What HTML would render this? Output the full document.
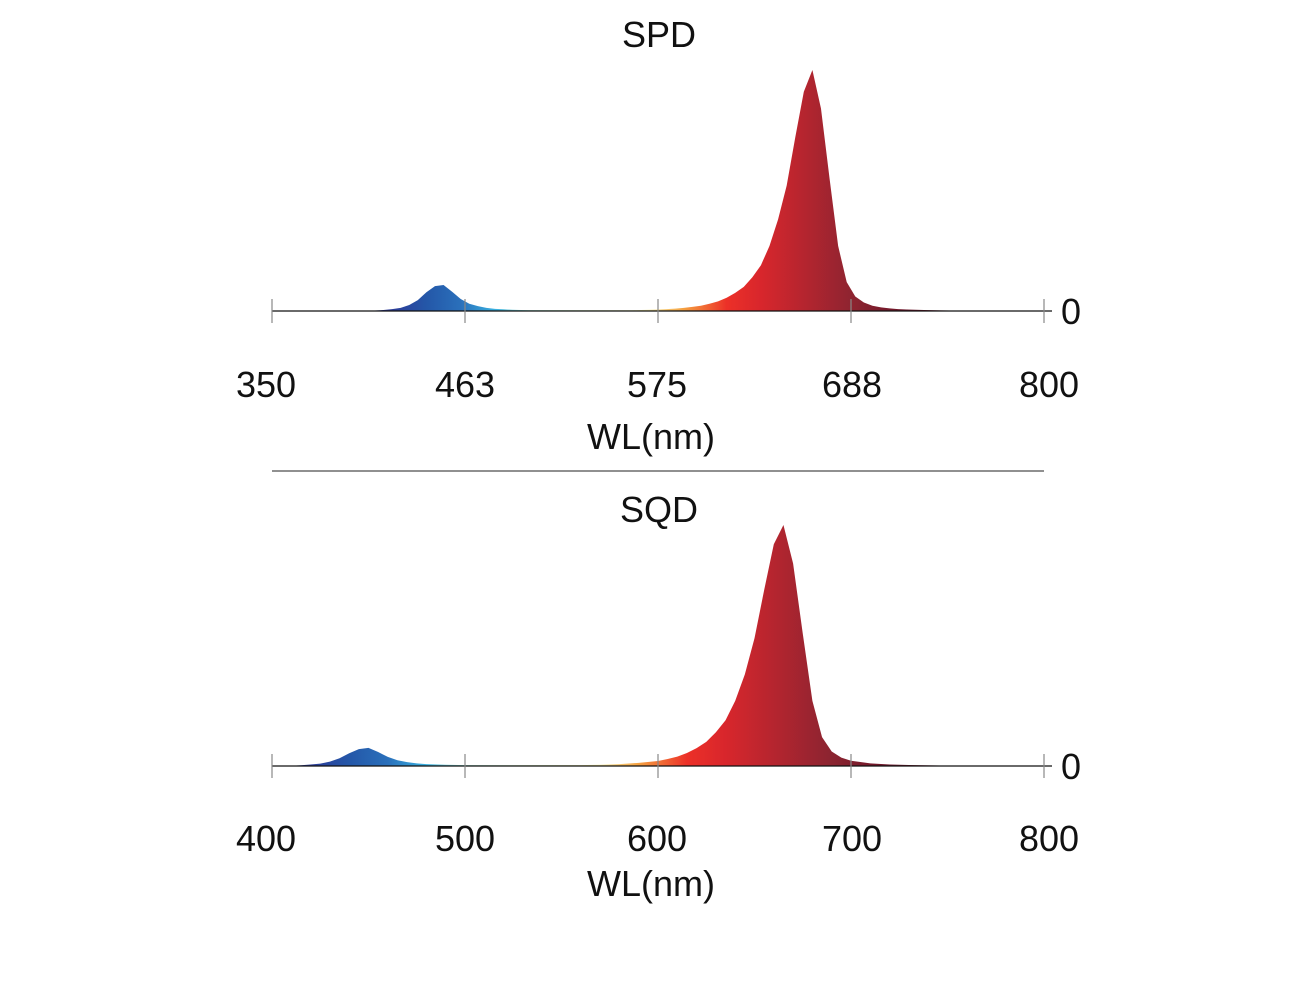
<!DOCTYPE html>
<html><head><meta charset="utf-8"><style>
body{margin:0;background:#fff;}
svg{display:block;font-family:"Liberation Sans","Noto Sans CJK SC",sans-serif;}
</style></head><body>
<svg id="c" width="1300" height="991" viewBox="0 0 1300 991">
<defs>
<linearGradient id="spec" gradientUnits="userSpaceOnUse" x1="0" y1="0" x2="1" y2="0"></linearGradient>
</defs>
</svg>
<script>
// SPD data (wavelength nm, relative power)
const spdWl = [350,400,405,410,415,420,425,430,435,440,445,450,455,460,465,470,475,480,485,490,495,500,530,560,565,570,575,580,585,590,595,600,605,610,615,620,625,630,635,640,645,650,655,660,665,670,675,680,685,690,695,700,705,710,715,720,725,730,740,750,800];
const spdVal = [0,0,0.1,0.2,0.4,0.8,1.3,2.5,4.5,7.8,10.3,10.8,8,5,3,2,1.3,0.9,0.7,0.5,0.4,0.35,0.3,0.3,0.4,0.5,0.6,0.8,1,1.3,1.7,2.2,3,4,5.5,7.5,10,14,19,27,38,52,72,91,100,84,55,27,12,6,3.5,2.2,1.5,1.1,0.8,0.6,0.5,0.4,0.25,0.15,0];
const spdTicks = ["350","463","575","688","800"];
// SQD data
const sqdWl = [400,410,415,420,425,430,435,440,445,450,455,460,465,470,475,480,490,500,530,560,570,580,590,600,605,610,615,620,625,630,635,640,645,650,655,660,665,670,675,680,685,690,695,700,710,720,730,750,800];
const sqdVal = [0,0.1,0.3,0.6,1,1.8,3.2,5.3,7,7.5,5.8,3.8,2.4,1.6,1.1,0.8,0.5,0.35,0.3,0.35,0.5,0.8,1.3,2.1,2.9,3.9,5.4,7.4,10,14,19,27,38,53,73,92,100,84,55,27,12,6,3.5,2.2,1.1,0.6,0.4,0.15,0];
const sqdTicks = ["400","500","600","700","800"];

const svg=document.getElementById('c');
const NS='http://www.w3.org/2000/svg';
const X0=272,X1=1044,HPX=241;
function mk(tag,attrs,parent){const e=document.createElementNS(NS,tag);for(const k in attrs)e.setAttribute(k,attrs[k]);(parent||svg).appendChild(e);return e;}
const stopsWl=[350,420,440,460,480,500,530,570,590,615,635,660,690,720,800];
const stopsCol=["#2a1f6e","#2c3c98","#2457a8","#2a70bb","#38b0e0","#8fd6c8","#b8e0a0","#f6ea9e","#f5a040","#ec3028","#d8262c","#b5252f","#8b2430","#6a1428","#5a0f24"];

function chart(name,top,wl,val,wmin,wmax,ticks,baseY,title,titleY,labY,xtY){
  const g=mk('g',{});
  
  
  const xs=w=>X0+(w-wmin)/(wmax-wmin)*(X1-X0);
  const ys=v=>baseY-v/100*HPX;
  // gradient
  const gid='g'+name;
  const lg=mk('linearGradient',{id:gid,gradientUnits:'userSpaceOnUse',x1:xs(350),y1:0,x2:xs(800),y2:0},svg.querySelector('defs'));
  stopsWl.forEach((w,i)=>mk('stop',{offset:((w-350)/450).toFixed(4),'stop-color':stopsCol[i]},lg));
  let d='M'+xs(wl[0])+','+baseY;
  wl.forEach((w,i)=>{d+=' L'+xs(w).toFixed(2)+','+ys(val[i]).toFixed(2);});
  d+=' L'+xs(wl[wl.length-1])+','+baseY+' Z';
  const p=mk('path',{d:d,fill:'url(#'+gid+')',stroke:'none'},g);
  
  
  const ax=mk('line',{x1:X0,y1:baseY,x2:X1+8,y2:baseY,stroke:'#111','stroke-width':1.2},g);
  
  
  ticks.forEach((t,i)=>{
    const x=X0+i*(X1-X0)/(ticks.length-1);
    const tl=mk('line',{x1:x,y1:baseY-12,x2:x,y2:baseY+12,stroke:'#888','stroke-width':1.2},g);
    
    
    const off=[-6,0,-1,1,5][i];
    const tx=mk('text',{x:x+off,y:labY,'font-size':36,'text-anchor':'middle',fill:'#111'},g);
    tx.textContent=t;
    
    
  });
  const z=mk('text',{x:1061,y:baseY+13,'font-size':36,fill:'#111'},g);
  z.textContent='0';
  
  
  const tt=mk('text',{x:659,y:titleY,'font-size':36,'text-anchor':'middle',fill:'#111'},g);
  tt.textContent=title;
  
  
  const xt=mk('text',{x:651,y:xtY,'font-size':36,'text-anchor':'middle',fill:'#111'},g);
  xt.textContent='WL(nm)';
  
  
}
chart('spd-chart',0,spdWl,spdVal,350,800,spdTicks,311,'SPD',47,397,449);
chart('sqd-chart',0,sqdWl,sqdVal,400,800,sqdTicks,766,'SQD',522,851,896);
const sep=mk('line',{x1:272,y1:471,x2:1044,y2:471,stroke:'#222','stroke-width':1});


</script>
</body></html>
